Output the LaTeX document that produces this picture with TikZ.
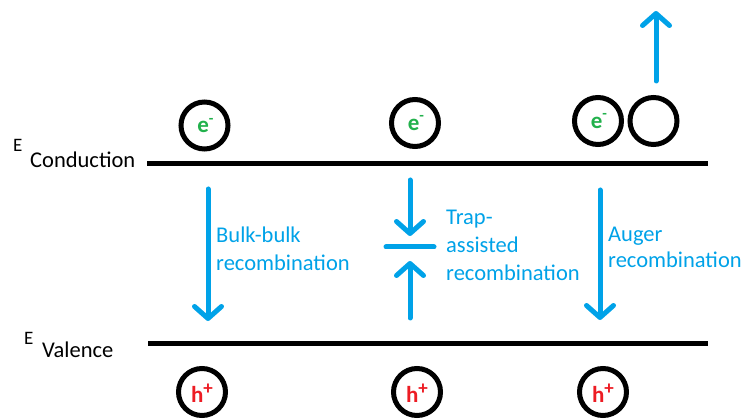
\documentclass[tikz,border=0pt]{standalone}
\usepackage{fontspec}
\setmainfont{Carlito}
\usetikzlibrary{arrows.meta}
\definecolor{flowblue}{HTML}{00A2E8}
\definecolor{egreen}{HTML}{22B14C}
\definecolor{hred}{HTML}{ED1C24}

\tikzset{
  level/.style={line width=5.5pt},
  particle/.style={circle, draw=black, line width=5pt, minimum size=47pt, inner sep=0pt},
  flow/.style={draw=flowblue, line width=5pt, line cap=round,
    -{Straight Barb[round, length=12pt, width=27pt]}},
  trapbar/.style={draw=flowblue, line width=5pt, line cap=round},
  lbl/.style={text=flowblue, font=\fontsize{22.5}{26}\selectfont, anchor=base west, inner sep=0pt},
  Elbl/.style={font=\fontsize{19}{22}\selectfont, anchor=base west, inner sep=0pt},
  sublbl/.style={font=\fontsize{22.5}{26}\selectfont, anchor=base west, inner sep=0pt},
}
\newcommand{\electron}{\textcolor{egreen}{\fontsize{23}{23}\selectfont\bfseries e\raisebox{0.40em}{\fontsize{15}{15}\selectfont -}}}
\newcommand{\hole}{\textcolor{hred}{\fontsize{23}{23}\selectfont\bfseries h\raisebox{0.34em}{\fontsize{19}{19}\selectfont +}}}

\begin{document}
\begin{tikzpicture}[x=1pt, y=-1pt]
  \useasboundingbox (0,0) rectangle (742,419);

  % band edges
  \coordinate (cb-l) at (147,163.5);
  \coordinate (cb-r) at (708,163.5);
  \coordinate (vb-l) at (148,343.5);
  \coordinate (vb-r) at (708,343.5);
  \draw[level] (cb-l) -- (cb-r);
  \draw[level] (vb-l) -- (vb-r);

  % band labels
  \node[Elbl]   (ec-E) at (13,152) {E};
  \node[sublbl] (ec-t) at (30,168) {Conduction};
  \node[Elbl]   (ev-E) at (24,345) {E};
  \node[sublbl] (ev-t) at (42,358) {Valence};

  % electrons in the conduction band
  \node[particle] (e1) at (204.5,125.5) {};
  \node[particle] (e2) at (415,123) {};
  \node[particle] (e3) at (598,121) {};
  \node[particle] (e4) at (653.5,121) {};
  \node (e1t) at ([xshift=1pt]e1) {\electron};
  \node (e2t) at ([xshift=1pt]e2) {\electron};
  \node (e3t) at ([xshift=1pt]e3) {\electron};

  % holes in the valence band
  \node[particle] (h1) at (202,392) {};
  \node[particle] (h2) at (417,392) {};
  \node[particle] (h3) at (603,392) {};
  \node (h1t) at ([yshift=-1pt]h1) {\hole};
  \node (h2t) at ([yshift=-1pt]h2) {\hole};
  \node (h3t) at ([yshift=-1pt]h3) {\hole};

  % Auger electron ejected upwards
  \coordinate (aug-up-s) at (656,81);
  \coordinate (aug-up-e) at (656,11);
  \draw[flow] (aug-up-s) -- (aug-up-e);

  % bulk-bulk recombination
  \coordinate (bb-s) at (208,189);
  \coordinate (bb-e) at (208,321);
  \draw[flow] (bb-s) -- (bb-e);
  \node[lbl] (bb-l1) at (216,243) {Bulk-bulk};
  \node[lbl] (bb-l2) at (216,271) {recombination};

  % trap-assisted recombination
  \coordinate (tr-s1) at (410,180);
  \coordinate (tr-e1) at (410,236);
  \coordinate (tr-s2) at (410,318);
  \coordinate (tr-e2) at (410,261);
  \coordinate (trap-l) at (386,247);
  \coordinate (trap-r) at (434,247);
  \draw[flow] (tr-s1) -- (tr-e1);
  \draw[flow] (tr-s2) -- (tr-e2);
  \draw[trapbar] (trap-l) -- (trap-r);
  \node[lbl] (tr-l1) at (446,225) {Trap-};
  \node[lbl] (tr-l2) at (446,253) {assisted};
  \node[lbl] (tr-l3) at (446,281) {recombination};

  % Auger recombination
  \coordinate (au-s) at (600,190);
  \coordinate (au-e) at (600,320);
  \draw[flow] (au-s) -- (au-e);
  \node[lbl] (au-l1) at (608,242) {Auger};
  \node[lbl] (au-l2) at (608,268) {recombination};
\end{tikzpicture}
\end{document}
